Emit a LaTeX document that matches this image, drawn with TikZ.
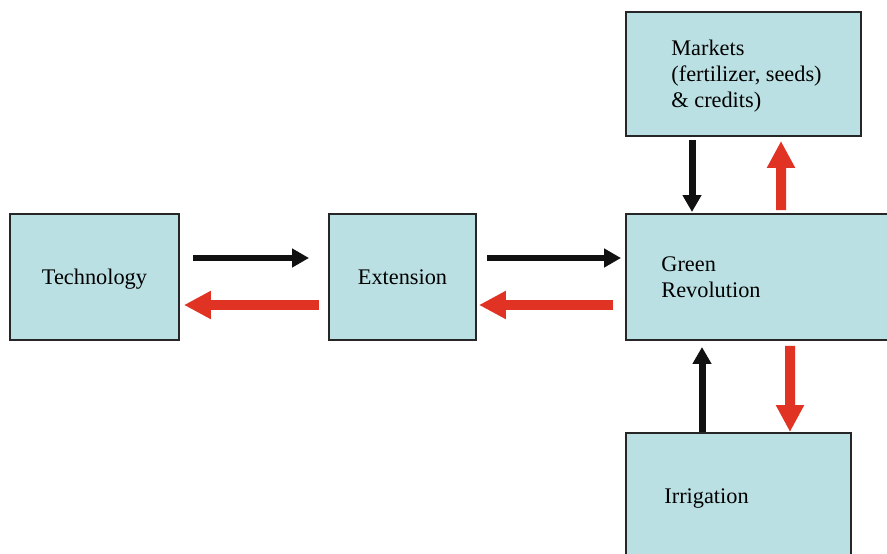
\documentclass[tikz,border=0pt]{standalone}
\usepackage{fontspec}
\setmainfont{Liberation Serif}
\usetikzlibrary{arrows.meta,calc}
\definecolor{boxfill}{HTML}{BAE0E3}
\definecolor{flowred}{HTML}{E03324}
\definecolor{flowblk}{HTML}{111111}

\begin{document}
\begin{tikzpicture}[x=0.02cm, y=-0.02cm,
	box/.style={draw=black!85, line width=1.1pt, fill=boxfill, rectangle, inner sep=0pt,
		text depth=0pt, font=\fontsize{12.7}{14.8}\selectfont},
	lbl/.style={align=left, inner sep=0pt, font=\fontsize{12.7}{14.8}\selectfont},
	fwd/.style={draw=flowblk, line width=0.14cm, -{Triangle[length=0.34cm, width=0.36cm]}},
	back/.style={draw=flowred, line width=0.2cm, -{Triangle[length=0.54cm, width=0.53cm]}}]

	\useasboundingbox (0,0) rectangle (887,554);
	\clip (0,0) rectangle (887,554);

	% Блоки цепочки
	\node[box, minimum width=3.38cm, minimum height=2.52cm] (tech) at (94.5,277) {Technology};
	\node[box, minimum width=2.94cm, minimum height=2.52cm] (ext) at (402.5,277) {Extension};
	\node[box, minimum width=5.4cm, minimum height=2.52cm] (green) at (761,277) {};
	\node[lbl, anchor=west] (greentxt) at ($(green.west)+(36,0)$) {Green\\Revolution};

	% Рынки сверху
	\node[box, minimum width=4.7cm, minimum height=2.48cm] (mkt) at (743.5,74) {};
	\node[lbl, anchor=west] (mkttxt) at ($(mkt.west)+(46,2)$) {Markets\\(fertilizer, seeds)\\\& credits)};

	% Орошение снизу
	\node[box, minimum width=4.5cm, minimum height=2.9cm] (irr) at (738.5,505.5) {};
	\node[lbl, anchor=west] (irrtxt) at ($(irr.north west)+(39,66)$) {Irrigation};

	% Прямые (чёрные) и обратные (красные) связи
	\draw[fwd] ($(tech.east)+(13,-19)$) -- ($(ext.west)+(-19,-19)$);
	\draw[back] ($(ext.west)+(-9,28)$) -- ($(tech.east)+(4,28)$);
	\draw[fwd] ($(ext.east)+(10,-19)$) -- ($(green.west)+(-4,-19)$);
	\draw[back] ($(green.west)+(-12,28)$) -- ($(ext.east)+(2,28)$);

	\draw[fwd] ($(mkt.south)+(-51.5,3)$) -- ($(green.north)+(-69,-1)$);
	\draw[back] ($(green.north)+(20,-3)$) -- ($(mkt.south)+(37.5,4)$);

	\draw[fwd] ($(irr.north)+(-36.5,0)$) -- ($(green.south)+(-59,6)$);
	\draw[back] ($(green.south)+(29,5)$) -- ($(irr.north)+(51.5,0)$);

\end{tikzpicture}
\end{document}
